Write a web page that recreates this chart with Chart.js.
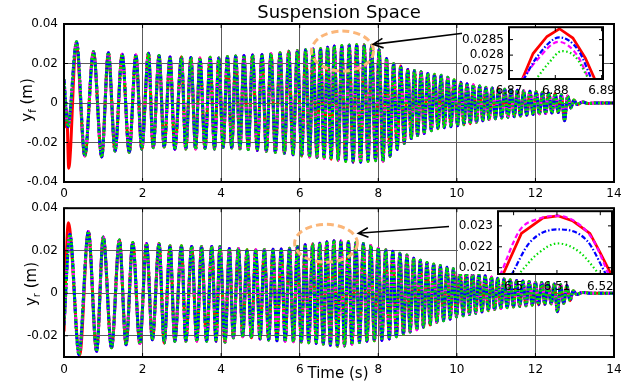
<!DOCTYPE html>
<html>
<head>
<meta charset="utf-8">
<script src="https://cdn.jsdelivr.net/npm/chart.js@4.4.1/dist/chart.umd.min.js"></script>
<style>
  html, body { margin: 0; padding: 0; background: #fff; }
  #wrap { position: relative; width: 639px; height: 383px; overflow: hidden; background: #fff; }
  #wrap canvas { position: absolute; }
</style>
</head>
<body>
<div id="wrap">
  <canvas id="front" width="639" height="200" style="left:0;top:0"></canvas>
  <canvas id="rear" width="639" height="188" style="left:0;top:195px"></canvas>
  <canvas id="frontZoom" width="175" height="90" style="left:455px;top:15px"></canvas>
  <canvas id="rearZoom" width="190" height="95" style="left:445px;top:199px"></canvas>
</div>
<script>
const timeTicks = [0, 2, 4, 6, 8, 10, 12, 14];
const frontTicks = [-0.04, -0.02, 0, 0.02, 0.04];
const rearTicks = [-0.02, 0, 0.02, 0.04];
const frontZoomTimeTicks = [6.87, 6.88, 6.89];
const frontZoomTicks = [0.0275, 0.028, 0.0285];
const rearZoomTimeTicks = [6.5, 6.51, 6.52];
const rearZoomTicks = [0.021, 0.022, 0.023];

// front suspension space: turning points [time s, deflection m]
const frontTurns = [
  [0, 0.012], [0.10, -0.012], [0.32, 0.031], [0.53, -0.0268], [0.75, 0.026], [0.96, -0.0273],
  [1.13, 0.0255], [1.30, -0.0243], [1.48, 0.0247], [1.66, -0.025], [1.83, 0.0243], [1.98, -0.0234],
  [2.15, 0.0252], [2.27, -0.0226], [2.42, 0.024], [2.55, -0.0223], [2.70, 0.0233], [2.82, -0.0234],
  [2.99, 0.0233], [3.10, -0.0233], [3.23, 0.023], [3.35, -0.0233], [3.46, 0.0228], [3.59, -0.023],
  [3.72, 0.0232], [3.83, -0.0233], [3.94, 0.0228], [4.05, -0.0225], [4.16, 0.0235], [4.27, -0.0228],
  [4.37, 0.0238], [4.48, -0.0232], [4.58, 0.024], [4.69, -0.0236], [4.80, 0.0243], [4.92, -0.024],
  [5.04, 0.0245], [5.15, -0.0245], [5.27, 0.025], [5.38, -0.025], [5.50, 0.0255], [5.61, -0.0255],
  [5.72, 0.0262], [5.83, -0.0262], [5.94, 0.0266], [6.05, -0.0268], [6.15, 0.027], [6.25, -0.0273],
  [6.34, 0.0274], [6.44, -0.0276], [6.53, 0.0276], [6.62, -0.028], [6.71, 0.0282], [6.80, -0.0285],
  [6.88, 0.0288], [6.98, -0.029], [7.07, 0.0291], [7.17, -0.0296], [7.26, 0.0294], [7.36, -0.030],
  [7.45, 0.0296], [7.55, -0.030], [7.64, 0.0295], [7.74, -0.0296], [7.83, 0.0293], [7.93, -0.0292],
  [8.02, 0.027], [8.12, -0.0295], [8.21, 0.0225], [8.30, -0.027], [8.39, 0.020], [8.48, -0.0235],
  [8.57, 0.0187], [8.66, -0.0205], [8.75, 0.017], [8.84, -0.018], [8.92, 0.0165], [9.00, -0.0165],
  [9.09, 0.0158], [9.17, -0.0155], [9.26, 0.015], [9.35, -0.014], [9.43, 0.0145], [9.52, -0.013],
  [9.60, 0.014], [9.68, -0.0125], [9.77, 0.013], [9.85, -0.012], [9.93, 0.0118], [10.02, -0.0115],
  [10.10, 0.0105], [10.18, -0.011], [10.26, 0.0098], [10.34, -0.0105], [10.42, 0.0092], [10.50, -0.0098],
  [10.58, 0.0086], [10.66, -0.009], [10.74, 0.008], [10.82, -0.0084], [10.90, 0.0076], [10.98, -0.008],
  [11.06, 0.0072], [11.14, -0.0076], [11.22, 0.0069], [11.30, -0.0072], [11.38, 0.0066], [11.46, -0.0069],
  [11.54, 0.0064], [11.62, -0.0066], [11.70, 0.0062], [11.78, -0.0062], [11.86, 0.0059], [11.94, -0.0058],
  [12.02, 0.0057], [12.10, -0.0055], [12.18, 0.0054], [12.26, -0.0053], [12.34, 0.005], [12.42, -0.005],
  [12.50, 0.0047], [12.58, -0.0048], [12.66, 0.0042], [12.74, -0.009], [12.82, 0.0035], [12.90, -0.0025],
  [12.98, 0.0015], [13.06, -0.0008], [13.20, 0.0005], [13.35, -0.0003], [13.50, 0], [14, 0]
];
// the solid (red) run only differs in the first bump
const frontRedStart = [[0, 0.004], [0.04, -0.012], [0.07, -0.004], [0.12, -0.033], [0.31, 0.030]];

// rear suspension space: turning points [time s, deflection m]
const rearTurns = [
  [0, -0.015], [0.15, 0.0277], [0.38, -0.0288], [0.62, 0.029], [0.83, -0.0273], [1.00, 0.0265],
  [1.21, -0.0257], [1.41, 0.025], [1.58, -0.0242], [1.75, 0.0239], [1.93, -0.0237], [2.10, 0.0234],
  [2.25, -0.0219], [2.42, 0.0234], [2.55, -0.0234], [2.70, 0.0223], [2.82, -0.0226], [2.99, 0.0223],
  [3.10, -0.0226], [3.25, 0.022], [3.38, -0.0226], [3.50, 0.022], [3.63, -0.0226], [3.76, 0.022],
  [3.87, -0.0226], [3.97, 0.022], [4.10, -0.023], [4.21, 0.021], [4.31, -0.021], [4.44, 0.021],
  [4.55, -0.0205], [4.66, 0.0205], [4.77, -0.021], [4.88, 0.0205], [4.99, -0.0215], [5.10, 0.0206],
  [5.21, -0.022], [5.32, 0.0207], [5.42, -0.0224], [5.53, 0.0208], [5.63, -0.0226], [5.74, 0.0212],
  [5.84, -0.0228], [5.94, 0.022], [6.04, -0.023], [6.14, 0.0228], [6.23, -0.0233], [6.33, 0.0232],
  [6.42, -0.0236], [6.51, 0.0235], [6.60, -0.024], [6.69, 0.0242], [6.78, -0.0245], [6.87, 0.0247],
  [6.96, -0.025], [7.05, 0.0246], [7.14, -0.0248], [7.24, 0.0243], [7.33, -0.024], [7.43, 0.0238],
  [7.52, -0.0232], [7.62, 0.0234], [7.71, -0.0226], [7.81, 0.0225], [7.90, -0.0224], [8.00, 0.0212],
  [8.09, -0.0222], [8.19, 0.0205], [8.28, -0.0215], [8.37, 0.0198], [8.46, -0.0205], [8.55, 0.0188],
  [8.64, -0.0192], [8.73, 0.018], [8.81, -0.0182], [8.90, 0.0165], [8.98, -0.0172], [9.07, 0.0155],
  [9.15, -0.016], [9.24, 0.0145], [9.32, -0.015], [9.41, 0.0138], [9.49, -0.0138], [9.58, 0.013],
  [9.66, -0.013], [9.75, 0.0122], [9.83, -0.0122], [9.91, 0.0115], [9.99, -0.0112], [10.08, 0.0107],
  [10.16, -0.0106], [10.24, 0.010], [10.32, -0.010], [10.40, 0.0094], [10.48, -0.0094], [10.56, 0.0088],
  [10.64, -0.0088], [10.72, 0.0082], [10.80, -0.0082], [10.88, 0.0076], [10.96, -0.0077], [11.04, 0.0071],
  [11.12, -0.0072], [11.20, 0.0067], [11.28, -0.0068], [11.36, 0.0063], [11.44, -0.0065], [11.52, 0.006],
  [11.60, -0.0062], [11.68, 0.0058], [11.76, -0.0059], [11.84, 0.0055], [11.92, -0.0056], [12.00, 0.0052],
  [12.08, -0.0054], [12.16, 0.005], [12.24, -0.0052], [12.32, 0.0047], [12.40, -0.005], [12.48, 0.0044],
  [12.56, -0.0087], [12.64, 0.004], [12.72, -0.0048], [12.80, 0.0036], [12.88, -0.0035], [12.96, 0.0012],
  [13.05, -0.0006], [13.20, 0.0004], [13.40, 0], [14, 0]
];
const rearRedStart = [[0, -0.018], [0.11, 0.0332], [0.40, -0.029]];

// close-ups of one crest for each controller
const frontZoomRed = [[6.8728, 0.0272], [6.8752, 0.02805], [6.8782, 0.0286], [6.8809, 0.02885],
  [6.8838, 0.02855], [6.8865, 0.0279], [6.8886, 0.0272]];
const frontZoomMagenta = [[6.8728, 0.0272], [6.8761, 0.02785], [6.8807, 0.02843], [6.8847, 0.028], [6.8873, 0.0272]];
const frontZoomBlue = [[6.8731, 0.0272], [6.8761, 0.02795], [6.8809, 0.02857], [6.8850, 0.02815], [6.8879, 0.0272]];
const frontZoomGreen = [[6.8757, 0.0272], [6.8786, 0.02775], [6.8814, 0.02813], [6.8843, 0.02795], [6.8873, 0.0272]];

const rearZoomRed = [[6.4975, 0.02065], [6.5018, 0.02264], [6.5068, 0.02338], [6.5102, 0.02348],
  [6.5137, 0.02323], [6.5176, 0.02264], [6.5199, 0.02175], [6.5226, 0.02065]];
const rearZoomMagenta = [[6.4969, 0.02065], [6.5014, 0.02278], [6.5060, 0.02335], [6.5102, 0.02348],
  [6.5145, 0.02316], [6.5183, 0.02234], [6.5220, 0.02065]];
const rearZoomBlue = [[6.4995, 0.02065], [6.5037, 0.0222], [6.5102, 0.02283], [6.5169, 0.0223], [6.5214, 0.02065]];
const rearZoomGreen = [[6.5010, 0.02065], [6.5055, 0.02166], [6.5102, 0.02216], [6.5152, 0.02175], [6.5199, 0.02065]];

const FONT = 'DejaVu Sans';

function lineSets(red, magenta, blue, green, w, redW, smoothRed) {
  const common = { pointRadius: 0, fill: false, cubicInterpolationMode: 'monotone', borderCapStyle: 'butt' };
  return [
    { ...common, data: red, borderColor: '#ff0000', borderWidth: redW, order: 3,
      cubicInterpolationMode: smoothRed ? 'monotone' : 'default', tension: 0 },
    { ...common, data: magenta, borderColor: '#ff00ff', borderWidth: w, borderDash: [6, 3], order: 2 },
    { ...common, data: blue, borderColor: '#0000ff', borderWidth: w, borderDash: [5, 2, 2, 2], order: 1 },
    { ...common, data: green, borderColor: '#00dd00', borderWidth: w, borderDash: [2, 2], order: 0 }
  ];
}

// black box round the plot area with small inward tick marks
const framePlugin = {
  id: 'frame',
  afterDraw(chart) {
    const { ctx, chartArea: a, scales } = chart;
    ctx.save();
    ctx.strokeStyle = '#000';
    ctx.lineWidth = 1;
    ctx.beginPath();
    scales.x.ticks.forEach(t => {
      const px = scales.x.getPixelForValue(t.value);
      ctx.moveTo(px, a.bottom); ctx.lineTo(px, a.bottom - 4);
      ctx.moveTo(px, a.top); ctx.lineTo(px, a.top + 4);
    });
    scales.y.ticks.forEach(t => {
      const py = scales.y.getPixelForValue(t.value);
      ctx.moveTo(a.left, py); ctx.lineTo(a.left + 4, py);
      ctx.moveTo(a.right, py); ctx.lineTo(a.right - 4, py);
    });
    ctx.stroke();
    ctx.lineWidth = 2;
    ctx.strokeRect(a.left, a.top, a.right - a.left, a.bottom - a.top);
    ctx.restore();
  }
};

// dashed ellipse round the zoomed crest and an arrow to the close-up
const calloutPlugin = {
  id: 'callout',
  afterDatasetsDraw(chart, args, opts) {
    const { ctx, scales: { x, y } } = chart;
    const cx = x.getPixelForValue(opts.ring.t), cy = y.getPixelForValue(opts.ring.v);
    const rx = x.getPixelForValue(opts.ring.t + opts.ring.dt) - cx;
    const ry = cy - y.getPixelForValue(opts.ring.v + opts.ring.dv);
    ctx.save();
    ctx.strokeStyle = '#fbb679';
    ctx.lineWidth = 3;
    ctx.setLineDash([7, 4]);
    ctx.beginPath();
    ctx.ellipse(cx, cy, rx, ry, 0, 0, Math.PI * 2);
    ctx.stroke();
    ctx.setLineDash([]);
    const x0 = x.getPixelForValue(opts.arrow.from[0]), y0 = y.getPixelForValue(opts.arrow.from[1]);
    const x1 = x.getPixelForValue(opts.arrow.to[0]), y1 = y.getPixelForValue(opts.arrow.to[1]);
    const ang = Math.atan2(y1 - y0, x1 - x0);
    ctx.strokeStyle = '#000';
    ctx.lineWidth = 1.6;
    ctx.beginPath();
    ctx.moveTo(x0, y0); ctx.lineTo(x1, y1);
    ctx.moveTo(x1 - 11 * Math.cos(ang - 0.45), y1 - 11 * Math.sin(ang - 0.45));
    ctx.lineTo(x1, y1);
    ctx.lineTo(x1 - 11 * Math.cos(ang + 0.45), y1 - 11 * Math.sin(ang + 0.45));
    ctx.stroke();
    ctx.restore();
  }
};

// rotated y label with a subscript, plus optional heading / x label
const captionPlugin = {
  id: 'caption',
  afterDraw(chart, args, opts) {
    const ctx = chart.ctx;
    ctx.save();
    ctx.fillStyle = '#000';
    ctx.textBaseline = 'alphabetic';
    if (opts.heading) {
      ctx.font = `18px "${FONT}"`;
      ctx.textAlign = 'center';
      ctx.fillText(opts.heading, opts.headingX, opts.headingY);
    }
    if (opts.xTitle) {
      ctx.font = `15px "${FONT}"`;
      ctx.textAlign = 'center';
      ctx.fillText(opts.xTitle, opts.xTitleX, opts.xTitleY);
    }
    ctx.textAlign = 'left';
    ctx.translate(opts.yTitleX, opts.yTitleY);
    ctx.rotate(-Math.PI / 2);
    const big = `15px "${FONT}"`, small = `10px "${FONT}"`;
    ctx.font = big;
    const wy = ctx.measureText('y').width, wm = ctx.measureText(' (m)').width;
    ctx.font = small;
    const ws = ctx.measureText(opts.sub).width;
    let px = -(wy + ws + wm) / 2;
    ctx.font = big; ctx.fillText('y', px, 0); px += wy;
    ctx.font = small; ctx.fillText(opts.sub, px, 4); px += ws;
    ctx.font = big; ctx.fillText(' (m)', px, 0);
    ctx.restore();
  }
};

// white panel behind a close-up and its y tick labels
const backdropPlugin = {
  id: 'backdrop',
  beforeDraw(chart, args, opts) {
    const { ctx, chartArea: a } = chart;
    ctx.save();
    ctx.fillStyle = '#fff';
    ctx.fillRect(a.left - opts.room, a.top, a.right - a.left + opts.room, a.bottom - a.top);
    ctx.restore();
  }
};

function axis(min, max, ticks, fitKey, fitVal, pad, showGrid) {
  return {
    type: 'linear', min, max,
    afterBuildTicks: ax => { ax.ticks = ticks.map(v => ({ value: v })); },
    afterFit: ax => { ax[fitKey] = fitVal; },
    grid: { display: showGrid, color: '#5c5c5c', lineWidth: 1, drawTicks: false },
    border: { display: false },
    ticks: { color: '#000', font: { family: FONT, size: 12 }, padding: pad,
      autoSkip: false, maxRotation: 0, callback: v => String(v) }
  };
}

function makeChart(id, datasets, cfg) {
  return new Chart(document.getElementById(id), {
    type: 'line',
    data: { datasets },
    options: {
      responsive: false, animation: false, events: [],
      layout: { padding: cfg.padding },
      plugins: Object.assign({ legend: { display: false }, tooltip: { enabled: false } }, cfg.plugins),
      scales: { x: cfg.x, y: cfg.y }
    },
    plugins: cfg.extra
  });
}

const frontRed = frontRedStart.concat(frontTurns.filter(p => p[0] > 0.4));
const rearRed = rearRedStart.concat(rearTurns.filter(p => p[0] > 0.5));

makeChart('front', lineSets(frontRed, frontTurns, frontTurns, frontTurns, 3, 3, true), {
  padding: { top: 24, right: 25, left: 0, bottom: 0 },
  x: axis(0, 14, timeTicks, 'height', 18, 5, true),
  y: axis(-0.04, 0.04, frontTicks, 'width', 64, 6, true),
  plugins: {
    callout: { ring: { t: 7.09, v: 0.0263, dt: 0.79, dv: 0.0101 }, arrow: { from: [10.15, 0.0353], to: [7.87, 0.0297] } },
    caption: { heading: 'Suspension Space', headingX: 339, headingY: 18, sub: 'f', yTitleX: 32, yTitleY: 100 }
  },
  extra: [framePlugin, calloutPlugin, captionPlugin]
});

makeChart('rear', lineSets(rearRed, rearTurns, rearTurns, rearTurns, 3, 3, true), {
  padding: { top: 12, right: 25, left: 0, bottom: 0 },
  x: axis(0, 14, timeTicks, 'height', 26, 6, true),
  y: axis(-0.03, 0.04, rearTicks, 'width', 64, 6, true),
  plugins: {
    callout: { ring: { t: 6.67, v: 0.0235, dt: 0.80, dv: 0.0089 }, arrow: { from: [9.80, 0.0314], to: [7.49, 0.0282] } },
    caption: { xTitle: 'Time (s)', xTitleX: 338, xTitleY: 183, sub: 'r', yTitleX: 36, yTitleY: 89 }
  },
  extra: [framePlugin, calloutPlugin, captionPlugin]
});

function zoomSets(red, magenta, blue, green) {
  const sets = lineSets(red, magenta, blue, green, 2.2, 2.7, false);
  sets[1].borderDash = [5, 3];
  sets[2].borderDash = [5, 2, 1.5, 2];
  sets[3].borderDash = [1.5, 2.5];
  return sets;
}

makeChart('frontZoom', zoomSets(frontZoomRed, frontZoomMagenta, frontZoomBlue, frontZoomGreen), {
  padding: { top: 8, right: 27, left: 0, bottom: 0 },
  x: axis(6.87, 6.8903, frontZoomTimeTicks, 'height', 26, 5, false),
  y: axis(0.02723, 0.0289, frontZoomTicks, 'width', 54, 5, false),
  plugins: { backdrop: { room: 47 } },
  extra: [backdropPlugin, framePlugin]
});

makeChart('rearZoom', zoomSets(rearZoomRed, rearZoomMagenta, rearZoomBlue, rearZoomGreen), {
  padding: { top: 8, right: 23, left: 0, bottom: 0 },
  x: axis(6.4964, 6.5227, rearZoomTimeTicks, 'height', 20, 6, false),
  y: axis(0.0207, 0.0237, rearZoomTicks, 'width', 53, 5, false),
  plugins: { backdrop: { room: 40 } },
  extra: [backdropPlugin, framePlugin]
});
</script>
</body>
</html>
